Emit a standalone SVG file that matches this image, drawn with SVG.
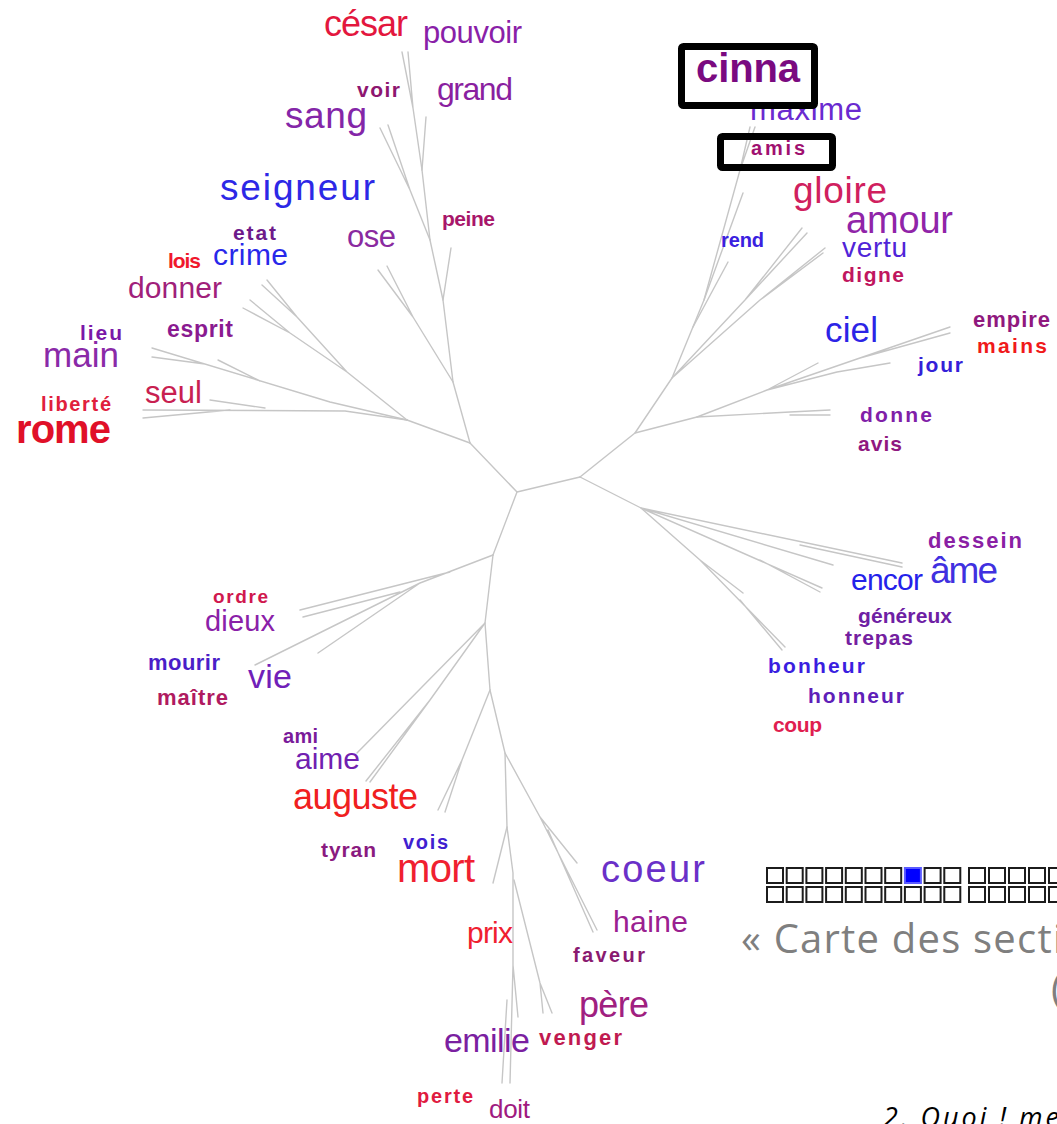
<svg xmlns="http://www.w3.org/2000/svg" width="1057" height="1124" viewBox="0 0 1057 1124">
  <style>
    text { font-family: "Liberation Sans", Arial, sans-serif; }
    .b { font-weight: bold; }
    .sq { fill: #ffffff; stroke: #1c1c1c; stroke-width: 2; }
    .cap { font-family: "Open Sans", Lato, sans-serif; fill: #7f7f7f; }
    .hl { fill: none; stroke: #000000; stroke-width: 7; }
  </style>
  <rect width="1057" height="1124" fill="#ffffff"/>

  <!-- tree branches -->
  <g id="connectors" fill="none" stroke="#c6c6c6" stroke-width="1.4" stroke-linejoin="round" stroke-linecap="round">
    <!-- core -->
    <path d="M580,477 L517,492 L470,443 M517,492 L493,555"/>
    <!-- upper trunk -->
    <path d="M470,443 L453,382 L443,300 L430,240 L422,170 L413,108 L402,52 M413,108 L408,52"/>
    <path d="M422,170 L426,117"/>
    <path d="M430,240 L410,190 L380,128 M410,190 L388,125"/>
    <path d="M443,300 L451,248"/>
    <path d="M453,382 L413,317 L378,270 M413,317 L387,266"/>
    <!-- left -->
    <path d="M470,443 L407,420"/>
    <path d="M407,420 L345,411 L143,410 M265,408 L210,400 M230,410 L143,418"/>
    <path d="M407,420 L330,402 L152,348 M205,364 L152,357 M260,381 L218,360"/>
    <path d="M407,420 L347,372 L297,317 L267,280 M297,317 L262,285 M347,372 L290,333 L250,300 M290,333 L243,308"/>
    <!-- upper right -->
    <path d="M580,477 L635,433 L672,378 L704,300 L740,170 L750,127 M740,170 L755,127"/>
    <path d="M704,300 L743,193 M693,327 L728,262"/>
    <path d="M672,378 L745,300 L802,228 M745,300 L807,233 M672,378 L760,300 L825,248 M760,300 L823,253"/>
    <path d="M635,433 L697,417 L790,412 L830,410 M790,415 L830,415"/>
    <path d="M697,417 L767,390 L950,327 M860,358 L950,333 M767,390 L818,363 M767,390 L837,372 L890,363"/>
    <!-- lower right -->
    <path d="M580,477 L641,508 L902,563 M800,545 L902,567 M641,508 L833,565 M641,508 L822,588 M760,560 L820,592"/>
    <path d="M641,508 L700,560 L785,647 M740,600 L782,650 M700,560 L743,593"/>
    <!-- lower -->
    <path d="M493,555 L420,583 M450,572 L300,610 M400,592 L303,617 M420,583 L255,665 M420,583 L318,653"/>
    <path d="M493,555 L485,623 L490,690 L505,753 L507,827 L513,873 L513,965 L510,1083 M507,1000 L502,1083 M513,965 L518,1017"/>
    <path d="M514,880 L540,983 L552,1013 M540,983 L543,1013"/>
    <path d="M507,827 L493,883"/>
    <path d="M490,690 L462,760 L438,810 M462,760 L445,812"/>
    <path d="M485,623 L357,753 M485,623 L430,700 L370,782 M430,700 L366,781"/>
    <path d="M505,753 L540,817 L577,863 M540,817 L597,930 M548,830 L593,932"/>
  </g>

  <!-- word nodes -->
  <g id="n-cesar"><text x="324" y="36" font-size="36" fill="#e3173e" textLength="84" lengthAdjust="spacing">césar</text></g>
  <g id="n-pouvoir"><text x="423" y="43" font-size="31" fill="#8a1fa8" textLength="99" lengthAdjust="spacing">pouvoir</text></g>
  <g id="n-voir"><text class="b" x="357" y="97" font-size="21" fill="#8e1670" textLength="43" lengthAdjust="spacing">voir</text></g>
  <g id="n-grand"><text x="437" y="100" font-size="32" fill="#8a1fa0" textLength="76" lengthAdjust="spacing">grand</text></g>
  <g id="n-sang"><text x="285" y="128" font-size="37" fill="#8426a8" textLength="82" lengthAdjust="spacing">sang</text></g>
  <g id="n-seigneur"><text x="220" y="200" font-size="37" fill="#2d28e6" textLength="155" lengthAdjust="spacing">seigneur</text></g>
  <g id="n-peine"><text class="b" x="442" y="226" font-size="21" fill="#a8166a" textLength="53" lengthAdjust="spacing">peine</text></g>
  <g id="n-ose"><text x="347" y="247" font-size="31" fill="#8a2aa0" textLength="49" lengthAdjust="spacing">ose</text></g>
  <g id="n-etat"><text class="b" x="233" y="240" font-size="21" fill="#6e1a8a" textLength="43" lengthAdjust="spacing">etat</text></g>
  <g id="n-crime"><text x="213" y="265" font-size="30" fill="#2828ea" textLength="75" lengthAdjust="spacing">crime</text></g>
  <g id="n-lois"><text class="b" x="168" y="268" font-size="21" fill="#f0182c" textLength="33" lengthAdjust="spacing">lois</text></g>
  <g id="n-donner"><text x="128" y="298" font-size="30" fill="#a0207a" textLength="94" lengthAdjust="spacing">donner</text></g>
  <g id="n-lieu"><text class="b" x="80" y="340" font-size="21" fill="#7a18a8" textLength="42" lengthAdjust="spacing">lieu</text></g>
  <g id="n-esprit"><text class="b" x="167" y="337" font-size="23" fill="#8a1a90" textLength="66" lengthAdjust="spacing">esprit</text></g>
  <g id="n-main"><text x="43" y="367" font-size="35" fill="#8a2aa8" textLength="76" lengthAdjust="spacing">main</text></g>
  <g id="n-seul"><text x="145" y="403" font-size="31" fill="#c82050" textLength="57" lengthAdjust="spacing">seul</text></g>
  <g id="n-liberte"><text class="b" x="41" y="411" font-size="20" fill="#e0203c" textLength="70" lengthAdjust="spacing">liberté</text></g>
  <g id="n-rome"><text class="b" x="16" y="443" font-size="40" fill="#e01028" textLength="95" lengthAdjust="spacing">rome</text></g>

  <g id="n-cinna"><text class="b" x="696" y="82" font-size="40" fill="#7a0a80" textLength="104" lengthAdjust="spacing">cinna</text></g>
  <g id="n-maxime"><text x="750" y="120" font-size="31" fill="#6a2ad0" textLength="112" lengthAdjust="spacing">maxime</text></g>
  <g id="n-amis"><text class="b" x="751" y="155" font-size="20" fill="#a01070" textLength="54" lengthAdjust="spacing">amis</text></g>
  <g id="n-gloire"><text x="793" y="203" font-size="37" fill="#d0205e" textLength="94" lengthAdjust="spacing">gloire</text></g>
  <g id="n-amour"><text x="846" y="233" font-size="38" fill="#9024a8" textLength="107" lengthAdjust="spacing">amour</text></g>
  <g id="n-vertu"><text x="842" y="257" font-size="28" fill="#5024d8" textLength="65" lengthAdjust="spacing">vertu</text></g>
  <g id="n-digne"><text class="b" x="842" y="282" font-size="21" fill="#c0165e" textLength="62" lengthAdjust="spacing">digne</text></g>
  <g id="n-rend"><text class="b" x="721" y="247" font-size="20" fill="#3a20e0" textLength="43" lengthAdjust="spacing">rend</text></g>
  <g id="n-ciel"><text x="825" y="342" font-size="35" fill="#2c24e6" textLength="53" lengthAdjust="spacing">ciel</text></g>
  <g id="n-empire"><text class="b" x="973" y="327" font-size="22" fill="#90187e" textLength="77" lengthAdjust="spacing">empire</text></g>
  <g id="n-mains"><text class="b" x="977" y="353" font-size="21" fill="#f01a1a" textLength="70" lengthAdjust="spacing">mains</text></g>
  <g id="n-jour"><text class="b" x="918" y="372" font-size="21" fill="#3420d8" textLength="45" lengthAdjust="spacing">jour</text></g>
  <g id="n-donne"><text class="b" x="860" y="422" font-size="21" fill="#8020a8" textLength="72" lengthAdjust="spacing">donne</text></g>
  <g id="n-avis"><text class="b" x="858" y="451" font-size="21" fill="#901880" textLength="44" lengthAdjust="spacing">avis</text></g>

  <g id="n-dessein"><text class="b" x="928" y="548" font-size="22" fill="#8a20a4" textLength="94" lengthAdjust="spacing">dessein</text></g>
  <g id="n-ame"><text x="930" y="583" font-size="37" fill="#4030e0" textLength="68" lengthAdjust="spacing">âme</text></g>
  <g id="n-encor"><text x="851" y="590" font-size="30" fill="#2422ea" textLength="72" lengthAdjust="spacing">encor</text></g>
  <g id="n-genereux"><text class="b" x="858" y="623" font-size="21" fill="#6e20a4" textLength="94" lengthAdjust="spacing">généreux</text></g>
  <g id="n-trepas"><text class="b" x="845" y="645" font-size="21" fill="#7420a0" textLength="68" lengthAdjust="spacing">trepas</text></g>
  <g id="n-bonheur"><text class="b" x="768" y="673" font-size="21" fill="#3a1ee0" textLength="97" lengthAdjust="spacing">bonheur</text></g>
  <g id="n-honneur"><text class="b" x="808" y="703" font-size="21" fill="#5e20b8" textLength="96" lengthAdjust="spacing">honneur</text></g>
  <g id="n-coup"><text class="b" x="773" y="732" font-size="21" fill="#e01e50" textLength="49" lengthAdjust="spacing">coup</text></g>

  <g id="n-ordre"><text class="b" x="213" y="603" font-size="19" fill="#d0184e" textLength="55" lengthAdjust="spacing">ordre</text></g>
  <g id="n-dieux"><text x="205" y="631" font-size="29" fill="#8a20a8" textLength="70" lengthAdjust="spacing">dieux</text></g>
  <g id="n-mourir"><text class="b" x="148" y="670" font-size="22" fill="#4a1ec8" textLength="72" lengthAdjust="spacing">mourir</text></g>
  <g id="n-vie"><text x="248" y="688" font-size="34" fill="#7020b8" textLength="44" lengthAdjust="spacing">vie</text></g>
  <g id="n-maitre"><text class="b" x="157" y="705" font-size="22" fill="#b01a60" textLength="71" lengthAdjust="spacing">maître</text></g>
  <g id="n-ami"><text class="b" x="283" y="743" font-size="20" fill="#7a1a9a" textLength="35" lengthAdjust="spacing">ami</text></g>
  <g id="n-aime"><text x="295" y="769" font-size="30" fill="#7020b0" textLength="65" lengthAdjust="spacing">aime</text></g>
  <g id="n-auguste"><text x="293" y="809" font-size="36" fill="#f02020" textLength="125" lengthAdjust="spacing">auguste</text></g>
  <g id="n-tyran"><text class="b" x="321" y="857" font-size="21" fill="#8a1a80" textLength="55" lengthAdjust="spacing">tyran</text></g>
  <g id="n-vois"><text class="b" x="403" y="849" font-size="20" fill="#4020d0" textLength="45" lengthAdjust="spacing">vois</text></g>
  <g id="n-mort"><text x="397" y="882" font-size="40" fill="#f02030" textLength="78" lengthAdjust="spacing">mort</text></g>
  <g id="n-coeur"><text x="601" y="882" font-size="38" fill="#6a30c8" textLength="104" lengthAdjust="spacing">coeur</text></g>
  <g id="n-haine"><text x="613" y="932" font-size="30" fill="#9a2090" textLength="75" lengthAdjust="spacing">haine</text></g>
  <g id="n-prix"><text x="467" y="943" font-size="30" fill="#f02030" textLength="46" lengthAdjust="spacing">prix</text></g>
  <g id="n-faveur"><text class="b" x="573" y="962" font-size="20" fill="#8a1a70" textLength="72" lengthAdjust="spacing">faveur</text></g>
  <g id="n-pere"><text x="579" y="1017" font-size="36" fill="#a02080" textLength="70" lengthAdjust="spacing">père</text></g>
  <g id="n-emilie"><text x="444" y="1052" font-size="34" fill="#7a20a0" textLength="86" lengthAdjust="spacing">emilie</text></g>
  <g id="n-venger"><text class="b" x="539" y="1045" font-size="22" fill="#c01a50" textLength="83" lengthAdjust="spacing">venger</text></g>
  <g id="n-perte"><text class="b" x="417" y="1103" font-size="20" fill="#e01a40" textLength="56" lengthAdjust="spacing">perte</text></g>
  <g id="n-doit"><text x="489" y="1118" font-size="26" fill="#a01a80" textLength="41" lengthAdjust="spacing">doit</text></g>

  <!-- highlight frames -->
  <g id="frame-cinna"><rect class="hl" x="681.5" y="46.5" width="133" height="59" rx="2"/></g>
  <g id="frame-amis"><rect class="hl" x="720.5" y="136.5" width="112" height="31" rx="2"/></g>

  <!-- section map -->
  <g id="section-map">
    <rect class="sq" x="767" y="868" width="16" height="15"/>
    <rect class="sq" x="786.7" y="868" width="16" height="15"/>
    <rect class="sq" x="806.4" y="868" width="16" height="15"/>
    <rect class="sq" x="826.1" y="868" width="16" height="15"/>
    <rect class="sq" x="845.8" y="868" width="16" height="15"/>
    <rect class="sq" x="865.5" y="868" width="16" height="15"/>
    <rect class="sq" x="885.2" y="868" width="16" height="15"/>
    <rect x="904.9" y="868" width="16" height="15" fill="#0000ff" stroke="#5a5aff" stroke-width="2"/>
    <rect class="sq" x="924.6" y="868" width="16" height="15"/>
    <rect class="sq" x="944.3" y="868" width="16" height="15"/>
    <rect class="sq" x="969" y="868" width="16" height="15"/>
    <rect class="sq" x="989" y="868" width="16" height="15"/>
    <rect class="sq" x="1009" y="868" width="16" height="15"/>
    <rect class="sq" x="1029" y="868" width="16" height="15"/>
    <rect class="sq" x="1049" y="868" width="16" height="15"/>

    <rect class="sq" x="767" y="887" width="16" height="15"/>
    <rect class="sq" x="786.7" y="887" width="16" height="15"/>
    <rect class="sq" x="806.4" y="887" width="16" height="15"/>
    <rect class="sq" x="826.1" y="887" width="16" height="15"/>
    <rect class="sq" x="845.8" y="887" width="16" height="15"/>
    <rect class="sq" x="865.5" y="887" width="16" height="15"/>
    <rect class="sq" x="885.2" y="887" width="16" height="15"/>
    <rect class="sq" x="904.9" y="887" width="16" height="15"/>
    <rect class="sq" x="924.6" y="887" width="16" height="15"/>
    <rect class="sq" x="944.3" y="887" width="16" height="15"/>
    <rect class="sq" x="969" y="887" width="16" height="15"/>
    <rect class="sq" x="989" y="887" width="16" height="15"/>
    <rect class="sq" x="1009" y="887" width="16" height="15"/>
    <rect class="sq" x="1029" y="887" width="16" height="15"/>
    <rect class="sq" x="1049" y="887" width="16" height="15"/>
  </g>

  <!-- caption -->
  <g id="caption">
    <text class="cap" x="741" y="953" font-size="40" textLength="322" lengthAdjust="spacing">« Carte des secti</text>
    <text class="cap" x="1051" y="1003" font-size="40">(</text>
    <text x="883" y="1127" font-size="27" font-style="italic" fill="#000000" style="font-family: 'Open Sans', Lato, sans-serif" textLength="176" lengthAdjust="spacing">2. Quoi ! me</text>
  </g>
</svg>
